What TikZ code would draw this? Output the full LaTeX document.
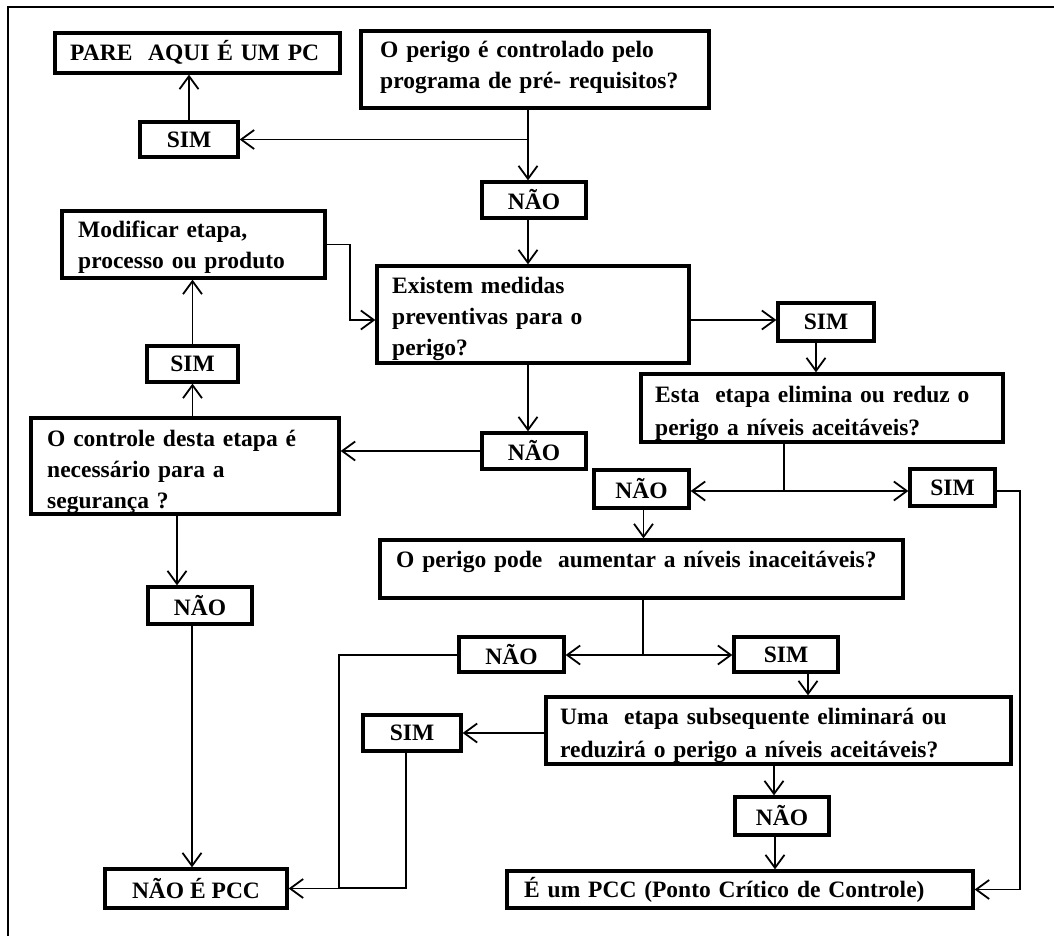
\documentclass[tikz,border=0pt]{standalone}
\usepackage{fontspec}
\setmainfont{Liberation Serif}
\usetikzlibrary{arrows.meta}
\tikzset{
  box/.style={draw, line width=3.3pt, inner sep=0pt, font=\bfseries\fontsize{23.5}{31}\selectfont, align=center},
  qbox/.style={draw, line width=3.3pt, inner sep=0pt},
  txt/.style={inner sep=0pt, anchor=base west, align=left, text width=#1, font=\bfseries\fontsize{23.5}{31}\selectfont},
  arr/.style={line width=1.8pt, -{Straight Barb[length=13pt,width=19pt,line width=1.8pt]}},
  ln/.style={line width=1.8pt},
  frame/.style={line width=2.6pt}
}
\begin{document}
\begin{tikzpicture}[x=1pt,y=-1pt]
\useasboundingbox (0,0) rectangle (1054,936);
\draw[frame] (8,936) -- (8,7) -- (1054,7);

% boxes
\node[qbox, minimum width=285pt, minimum height=40pt] (pare) at (197.5,53) {};
\node[qbox, minimum width=348pt, minimum height=77pt] (q1) at (535,69.5) {};
\node[box, minimum width=98pt, minimum height=35pt] (sim1) at (189,139.5) {SIM};
\node[box, minimum width=104pt, minimum height=36pt] (nao1) at (534,200) {NÃO};
\node[qbox, minimum width=263pt, minimum height=67pt] (mod) at (193.5,244.5) {};
\node[qbox, minimum width=312pt, minimum height=97pt] (q2) at (533,314.5) {};
\node[box, minimum width=91pt, minimum height=36pt] (sim2) at (192.5,364) {SIM};
\node[qbox, minimum width=308pt, minimum height=96pt] (q3) at (185,466) {};
\node[box, minimum width=104pt, minimum height=36pt] (nao2) at (534,451) {NÃO};
\node[box, minimum width=96pt, minimum height=38pt] (sim3) at (826,322) {SIM};
\node[qbox, minimum width=362pt, minimum height=68pt] (q4) at (822,408) {};
\node[box, minimum width=95pt, minimum height=38pt] (nao3) at (641.5,489) {NÃO};
\node[box, minimum width=85pt, minimum height=37pt] (sim4) at (952.5,487.5) {SIM};
\node[qbox, minimum width=523pt, minimum height=58pt] (q5) at (641.5,569) {};
\node[box, minimum width=105pt, minimum height=35pt] (nao4) at (511.5,654.5) {NÃO};
\node[box, minimum width=104pt, minimum height=35pt] (sim5) at (786,654.5) {SIM};
\node[box, minimum width=98pt, minimum height=36pt] (sim6) at (412,733) {SIM};
\node[qbox, minimum width=465pt, minimum height=67pt] (q6) at (778.5,730.5) {};
\node[box, minimum width=94pt, minimum height=38pt] (nao5) at (782,816) {NÃO};
\node[qbox, minimum width=466pt, minimum height=37pt] (pcc) at (740,889.5) {};
\node[box, minimum width=104pt, minimum height=37pt] (nao6) at (200,605.5) {NÃO};
\node[box, minimum width=182pt, minimum height=39pt] (npcc) at (196,888.5) {NÃO É PCC};

% box texts (first baseline, left edge)
\node[txt=260pt] (paret) at (70,61) {PARE\ \ AQUI É UM PC};
\node[txt=320pt] (q1t) at (380,58) {O perigo é controlado pelo\\programa de pré- requisitos?};
\node[txt=240pt] (modt) at (78,237) {Modificar etapa,\\processo ou produto};
\node[txt=290pt] (q2t) at (392,293) {Existem medidas\\preventivas para o\\perigo?};
\node[txt=285pt] (q3t) at (47,446) {O controle desta etapa é\\necessário para a\\segurança ?};
\node[txt=340pt,font=\bfseries\fontsize{23.5}{33}\selectfont] (q4t) at (655,402) {Esta\ \ etapa elimina ou reduz o\\perigo a níveis aceitáveis?};
\node[txt=505pt] (q5t) at (396,567) {O perigo pode\ \ aumentar a níveis inaceitáveis?};
\node[txt=445pt,font=\bfseries\fontsize{23.5}{33}\selectfont] (q6t) at (560,724) {Uma\ \ etapa subsequente eliminará ou\\reduzirá o perigo a níveis aceitáveis?};
\node[txt=445pt] (pcct) at (524,897) {É um PCC (Ponto Crítico de Controle)};

% junction coordinates
\coordinate (j1) at (528,139.5);
\coordinate (j2) at (350,320);
\coordinate (j3) at (784,491);
\coordinate (j4) at (1020,491);
\coordinate (j5) at (643,655);
\coordinate (j6) at (339,655);
\coordinate (j7) at (339,888);
\coordinate (j8) at (406,888);

% connectors
\draw[arr] (j1 |- q1.south) -- (j1 |- nao1.north);
\draw[arr] (j1) -- (sim1.east);
\draw[arr] (sim1.north) -- (sim1.north |- pare.south);
\draw[arr] (j1 |- nao1.south) -- (j1 |- q2.north);
\draw[arr] (mod.east) -| (j2) -- (j2 -| q2.west);
\draw[arr] (sim2.north) -- (sim2.north |- mod.south);
\draw[arr] (q3.north -| sim2.south) -- (sim2.south);
\draw[arr] (j1 |- q2.south) -- (j1 |- nao2.north);
\draw[arr] (nao2.west) -- (nao2.west -| q3.east);
\draw[arr] (j2 -| q2.east) -- (j2 -| sim3.west);
\draw[arr] ([xshift=-10pt]sim3.south) -- ([xshift=-10pt]sim3.south |- q4.north);
\draw[ln] (j3 |- q4.south) -- (j3);
\draw[arr] (j3) -- (j3 -| nao3.east);
\draw[arr] (j3) -- (j3 -| sim4.west);
\draw[arr] (sim4.east |- j4) -- (j4) |- (pcc.east);
\draw[arr] ([xshift=2pt]nao3.south) -- ([xshift=2pt]nao3.south |- q5.north);
\draw[ln] (j5 |- q5.south) -- (j5);
\draw[arr] (j5) -- (j5 -| nao4.east);
\draw[arr] (j5) -- (j5 -| sim5.west);
\draw[arr] (nao4.west |- j6) -- (j6) |- (npcc.east);
\draw[ln] (j8 |- sim6.south) -- (j8) -- (j7);
\draw[arr] ([xshift=22pt]sim5.south) -- ([xshift=22pt]sim5.south |- q6.north);
\draw[arr] (q6.west |- sim6.east) -- (sim6.east);
\draw[arr] ([xshift=-4.5pt]q6.south) -- ([xshift=-4.5pt]q6.south |- nao5.north);
\draw[arr] ([xshift=-7pt]nao5.south) -- ([xshift=-7pt]nao5.south |- pcc.north);
\draw[arr] ([xshift=-8pt]q3.south) -- ([xshift=-8pt]q3.south |- nao6.north);
\draw[arr] ([xshift=-8pt]nao6.south) -- ([xshift=-8pt]nao6.south |- npcc.north);
\end{tikzpicture}
\end{document}
